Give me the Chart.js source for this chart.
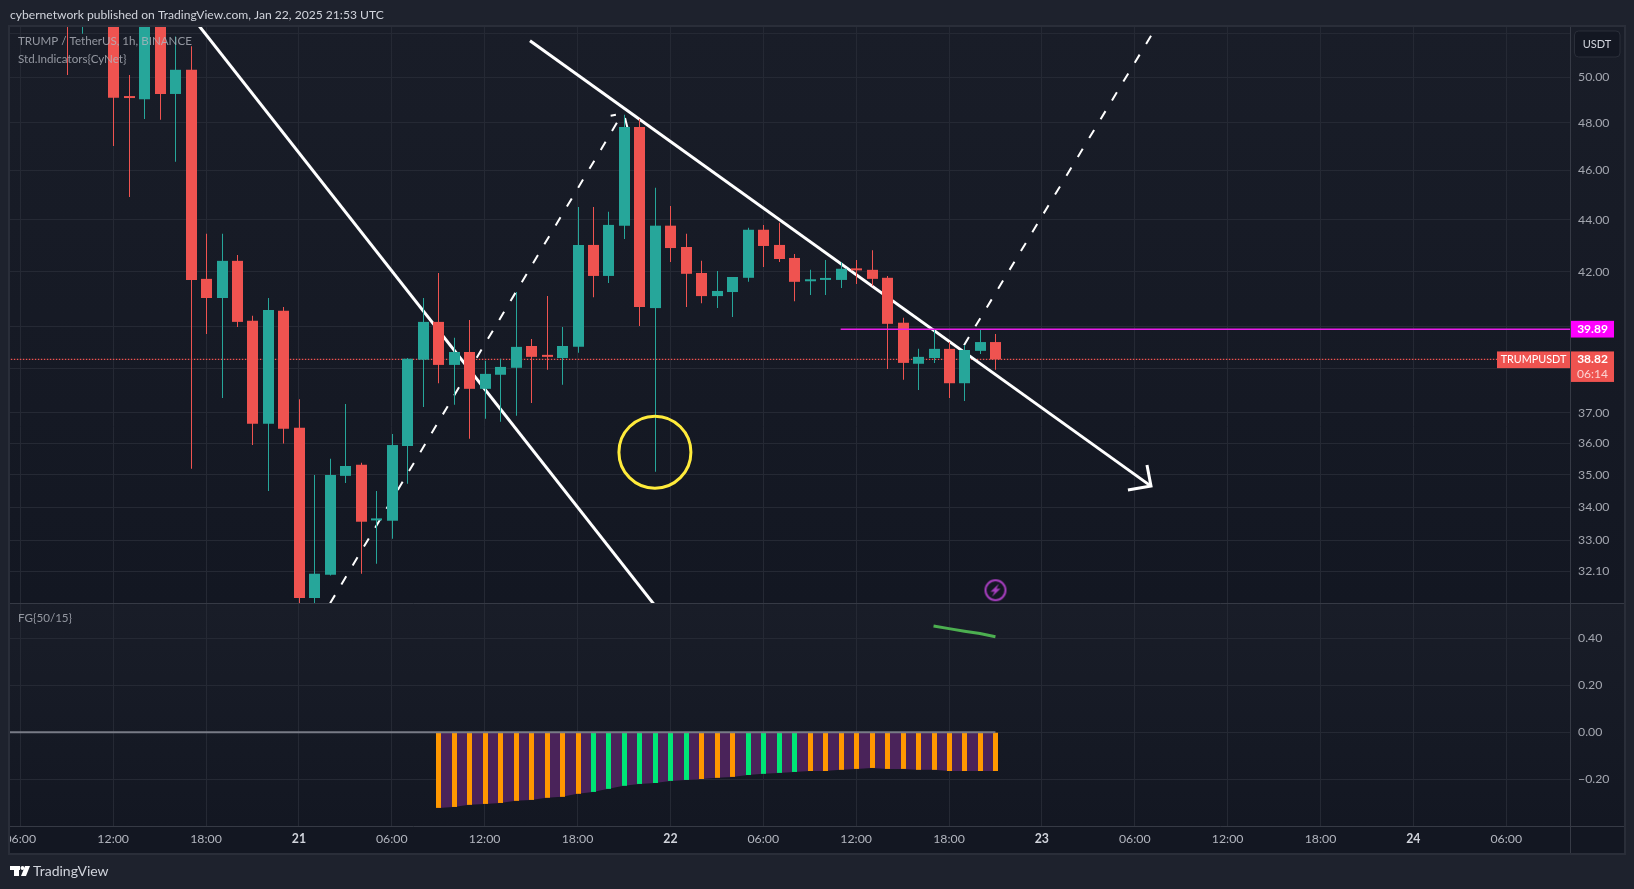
<!DOCTYPE html>
<html><head><meta charset="utf-8">
<style>html,body{margin:0;padding:0;background:#1e222d}canvas{display:block}</style>
<script src="https://cdn.jsdelivr.net/npm/chart.js@4"></script>
</head><body><canvas id="c" width="1634" height="889"></canvas>
<script>
// hour index: 0 = Jan 20 06:00
const firstHour = 3;
const opens = [55,53,54,55,49.12,49.03,53.5,49.26,50.34,41.73,
41.02,42.41,40.19,36.64,40.55,36.51,31.34,32.0,34.97,35.32,
33.60,33.59,35.92,38.81,40.15,38.63,39.08,37.81,38.29,38.53,
39.29,38.95,38.87,39.26,43.02,41.84,43.77,47.82,40.65,43.77,
42.94,41.95,41.09,41.24,41.77,43.61,43.02,42.52,41.64,41.69,
41.69,42.09,42.07,41.77,40.12,38.67,38.87,39.19,38.0,39.12,39.43];
const closes = [53.5,54,55,49.09,49.08,53,49.26,50.34,41.69,41.02,
42.41,40.15,36.64,40.58,36.48,31.34,32.03,35.0,35.28,33.56,
33.64,35.95,38.84,40.15,38.63,39.08,37.81,38.32,38.56,39.26,
38.91,38.91,39.29,43.02,41.84,43.80,47.82,40.69,43.77,42.90,
41.92,41.09,41.28,41.80,43.61,42.98,42.48,41.62,41.68,41.73,
42.11,42.05,41.73,40.08,38.70,38.91,39.19,38.0,39.15,39.43,38.82];
const highs = [56,54.5,56,56,50.10,54,54,51.87,51.42,43.45,
43.45,42.63,40.37,41.02,40.69,37.46,35.0,35.51,37.30,35.38,
34.50,36.31,38.87,41.02,41.95,39.58,40.22,38.77,38.84,41.24,
39.54,41.09,39.97,44.51,44.51,44.32,48.35,48.17,45.28,44.55,
43.45,42.41,42.03,41.80,43.69,43.80,43.88,42.67,42.07,42.44,
42.37,42.44,42.82,41.84,40.30,39.19,39.90,39.43,39.33,39.86,39.72];
const lows = [50.10,52.0,53,47.01,44.91,48.17,48.13,46.35,35.19,39.72,
37.50,39.97,35.95,34.50,36.0,31.1,31.1,31.98,34.75,32.03,
32.32,33.05,34.72,37.2,38.0,37.27,36.15,36.81,36.71,36.91,
37.33,38.46,37.95,39.05,41.05,41.58,43.25,40.0,35.10,42.37,
40.69,40.83,40.65,40.33,41.62,42.18,42.37,40.9,41.13,41.13,
41.39,41.54,41.47,38.49,38.12,37.77,38.70,37.50,37.40,39.01,38.46];

const fgFirstHour = 27;
const fgValues = [-.322,-.318,-.309,-.305,-.301,-.292,-.288,-.279,-.275,-.262,
-.254,-.241,-.228,-.220,-.216,-.207,-.203,-.199,-.194,-.190,
-.182,-.177,-.173,-.169,-.165,-.165,-.160,-.156,-.152,-.156,
-.156,-.160,-.160,-.165,-.165,-.165,-.165];
const fgColorKeys = ['o','o','o','o','o','o','o','o','o','o','g','g','g','g','g','g','g','o','o','o','g','g','g','g','o','o','o','o','o','o','o','o','o','o','o','o','o'];
const signalHours = [59,60,61,62,63];
const signalValues = [.452,.441,.430,.420,.406];
const zeroHours = [-1,63];
const zeroValues = [0,0];

const lastPrice = 38.82;
const levelPrice = 39.89;
const lastPriceHours = [-1,101];
const levelHours = [53,101];

const trendAHours = [10.75,41.75];
const trendAPrices = [53.11,30.72];
const trendBHours = [32.93,73.05];
const trendBPrices = [51.67,34.65];
const arrowHours = [72.79,73.05,71.56];
const arrowPrices = [35.31,34.65,34.53];
const dashAHours = [19.36,38.90];
const dashAPrices = [30.72,48.40];
const peakHours = [38.14,38.48,null,39.07,39.23];
const peakPrices = [48.31,48.35,null,48.21,47.78];
const dashBHours = [60.97,73.07];
const dashBPrices = [39.32,51.92];
const circleHour = [41];
const circlePrice = [35.72];
const boltHour = [63];
const boltPrice = [31.56];

const priceTicks = [52,50,48,46,44,42,40,38.5,37,36,35,34,33,32.1];
const hiddenPriceTicks = [52,40,38.5];
const fgTicks = [0.4,0.2,0,-0.2];
const timeTickHours = [0,6,12,18,24,30,36,42,48,54,60,66,72,78,84,90,96];
const timeTickLabels = ['06:00','12:00','18:00','21','06:00','12:00','18:00','22','06:00','12:00','18:00','23','06:00','12:00','18:00','24','06:00'];

const UP='#26a69a', DOWN='#ef5350', FONT='Lato';
const hrs = opens.map((_,i)=>i+firstHour);
const pts=(xs,ys)=>xs.map((x,i)=>({x:x,y:ys[i]}));
const line=(xs,ys,o)=>Object.assign({type:'line',data:pts(xs,ys),pointRadius:0,borderColor:'#ffffff',borderWidth:3,tension:0,fill:false,yAxisID:'y',xAxisID:'x',spanGaps:false},o);
const candleColors=opens.map((o,i)=>closes[i]>=o?UP:DOWN);

// bolt icon used as the point style of the marker
const bolt=document.createElement('canvas');bolt.width=24;bolt.height=24;
(function(){const g=bolt.getContext('2d');g.strokeStyle='#a83fc0';g.fillStyle='#a83fc0';g.lineWidth=2;
g.beginPath();g.arc(12,12,10,0,Math.PI*2);g.stroke();
g.beginPath();g.moveTo(15.5,5.5);g.lineTo(7,13.5);g.lineTo(11,13.5);g.lineTo(8.5,18.5);g.lineTo(17,10.5);g.lineTo(13,10.5);g.closePath();g.fill();})();

// keep bar marks crisp on the pixel grid (TradingView snaps candles the same way)
const crisp={id:'crisp',afterDatasetsUpdate(ch){ch.data.datasets.forEach((d,i)=>{if(d.type==='bar'){ch.getDatasetMeta(i).data.forEach(e=>{e.x=Math.round(e.x)+.5;});}});}};

const chrome={id:'chrome',
beforeDraw(ch){const c=ch.ctx,R=1624,L=10;
 c.save();c.fillStyle='#1e222d';c.fillRect(0,0,1634,889);
 const pane=(t,b)=>{const g=c.createLinearGradient(0,t,0,b);g.addColorStop(0,'#191d28');g.addColorStop(1,'#131722');c.fillStyle=g;c.fillRect(L,t,R-L,b-t);};
 pane(ch.scales.y.top,ch.scales.y.bottom);pane(ch.scales.y2.top,ch.scales.y2.bottom);
 c.fillStyle='#131722';c.fillRect(L,826,R-L,27);
 c.restore();},
afterDraw(ch){const c=ch.ctx,R=1624,L=10,sy=ch.scales.y;
 c.save();
 // cover label overflow on the left edge
 c.fillStyle='#1e222d';c.fillRect(0,826,L-1,27);
 // frame and separators
 c.strokeStyle='#2a2e39';c.lineWidth=2;c.strokeRect(L-1,26,R-L+2,828);
 c.lineWidth=1;c.strokeStyle='#363a45';
 c.beginPath();c.moveTo(L,603.5);c.lineTo(R,603.5);c.moveTo(L,826.5);c.lineTo(R,826.5);c.moveTo(1570.5,27);c.lineTo(1570.5,853);c.stroke();
 c.textBaseline='middle';
 // header and footer
 c.textAlign='left';c.fillStyle='#d1d4dc';c.font='12.1px '+FONT;
 c.fillText('cybernetwork published on TradingView.com, Jan 22, 2025 21:53 UTC',10,15);
 c.fillStyle='#d1d4dc';c.font='14px '+FONT;c.fillText('TradingView',33,871);
 c.fillStyle='#ffffff';
 c.fillRect(10,866,10,4);c.fillRect(14,866,5,10);c.beginPath();c.arc(22.5,868,2,0,7);c.fill();
 c.beginPath();c.moveTo(25,866);c.lineTo(30,866);c.lineTo(26,876);c.lineTo(21,876);c.closePath();c.fill();
 // pane legends
 c.fillStyle='rgba(178,181,190,.8)';c.font='11.6px '+FONT;
 c.fillText('TRUMP / TetherUS, 1h, BINANCE',18,41.5);
 c.fillText('Std.Indicators{CyNet}',18,59);
 c.fillText('FG{50/15}',18,618);
 // USDT button
 c.beginPath();c.roundRect(1574.5,31,45.5,26,4);c.fillStyle='#131722';c.fill();c.strokeStyle='#2a2e39';c.lineWidth=1;c.stroke();
 c.fillStyle='#d1d4dc';c.textAlign='center';c.font='11px '+FONT;c.fillText('USDT',1597,44);
 // level tag
 const ly=sy.getPixelForValue(levelPrice);
 c.fillStyle='#ff00ff';c.fillRect(1571,ly-8.3,43,16.7);
 c.fillStyle='#ffffff';c.font='bold 12px '+FONT;c.fillText(levelPrice.toFixed(2),1592.5,ly);
 // last price tags
 const py=sy.getPixelForValue(lastPrice);
 c.fillStyle=DOWN;c.fillRect(1571,py-8,43,30.5);c.fillRect(1497,py-8,73,16.7);
 c.fillStyle='#ffffff';c.font='10.8px '+FONT;c.fillText('TRUMPUSDT',1533.5,py);
 c.font='bold 12px '+FONT;c.fillText(lastPrice.toFixed(2),1592.5,py);
 c.fillStyle='rgba(255,255,255,.75)';c.font='12px '+FONT;c.fillText('06:14',1592.5,py+15);
 c.restore();}
};

new Chart(document.getElementById('c'),{
 type:'bar',
 data:{datasets:[
  line(lastPriceHours,[lastPrice,lastPrice],{borderColor:DOWN,borderWidth:1.2,borderDash:[1.5,1.5],order:30}),
  line(trendAHours,trendAPrices,{order:20}),
  line(trendBHours,trendBPrices,{order:20}),
  line(arrowHours,arrowPrices,{order:20,borderJoinStyle:'miter'}),
  line(dashAHours,dashAPrices,{borderWidth:2,borderDash:[9.5,12.5],borderDashOffset:2.2,order:20}),
  line(peakHours,peakPrices,{borderWidth:2,order:20}),
  line(dashBHours,dashBPrices,{borderWidth:2,borderDash:[9.5,12.5],order:20}),
  {type:'bar',data:hrs.map((h,i)=>({x:h,y:[lows[i],highs[i]]})),backgroundColor:candleColors,barThickness:1,inflateAmount:0,grouped:false,order:11,yAxisID:'y',xAxisID:'x'},
  {type:'bar',data:hrs.map((h,i)=>({x:h,y:[opens[i],closes[i]]})),backgroundColor:candleColors,barThickness:11,inflateAmount:0,minBarLength:2,grouped:false,order:10,yAxisID:'y',xAxisID:'x'},
  line(levelHours,[levelPrice,levelPrice],{borderColor:'#e91ee9',borderWidth:1.5,order:5}),
  line(circleHour,circlePrice,{showLine:false,pointRadius:36,pointBorderWidth:3,pointBorderColor:'#ffeb3b',pointBackgroundColor:'rgba(0,0,0,0)',order:4}),
  line(boltHour,boltPrice,{showLine:false,pointRadius:12,pointStyle:bolt,order:4}),
  line(fgValues.map((_,i)=>i+fgFirstHour),fgValues,{yAxisID:'y2',borderWidth:0,borderColor:'#4a235a',backgroundColor:'#4a235a',fill:{value:0},order:9}),
  {type:'bar',data:fgValues.map((v,i)=>({x:i+fgFirstHour,y:v})),backgroundColor:fgColorKeys.map(k=>k==='g'?'#00e676':'#ff9800'),barThickness:5,inflateAmount:0,grouped:false,order:8,yAxisID:'y2',xAxisID:'x'},
  line(zeroHours,zeroValues,{yAxisID:'y2',borderColor:'#787b86',borderWidth:2,order:7}),
  line(signalHours,signalValues,{yAxisID:'y2',borderColor:'#4caf50',borderWidth:3,order:6})
 ]},
 options:{responsive:false,animation:false,devicePixelRatio:1,
  layout:{autoPadding:false,padding:{left:10,top:27,right:10,bottom:36}},
  plugins:{legend:{display:false},tooltip:{enabled:false},title:{display:false}},
  scales:{
   x:{type:'linear',position:'bottom',min:-0.665,max:100.12,offset:false,
    grid:{color:'#252934',offset:false,drawTicks:false},border:{display:false},
    afterFit(s){s.height=27;s.paddingLeft=0;s.paddingRight=0;},
    afterBuildTicks(s){s.ticks=timeTickHours.map(v=>({value:v}));},
    ticks:{autoSkip:false,maxRotation:0,minRotation:0,padding:6,
     color(ctx){return /^\d\d$/.test(timeTickLabels[ctx.index])?'#d1d4dc':'#b2b5be';},
     font(ctx){return {family:FONT,size:12.3,weight:/^\d\d$/.test(timeTickLabels[ctx.index])?'700':'400'};},
     callback(v,i){return timeTickLabels[i];}}},
   y:{type:'logarithmic',position:'right',stack:'panes',stackWeight:576,min:31.20,max:52.31,
    grid:{color:'#252934',drawTicks:false},border:{display:false},
    afterFit(s){s.width=54;s.paddingTop=0;s.paddingBottom=0;},
    afterBuildTicks(s){s.ticks=priceTicks.map(v=>({value:v}));},
    ticks:{autoSkip:false,padding:8,color:'#a3a6af',font:{family:FONT,size:12.3},
     callback(v){return hiddenPriceTicks.includes(v)?'':v.toFixed(2);}}},
   y2:{type:'linear',position:'right',stack:'panes',stackWeight:223,min:-0.399,max:0.55,
    grid:{color:'#252934',drawTicks:false},border:{display:false},
    afterFit(s){s.width=54;s.paddingTop=0;s.paddingBottom=0;},
    afterBuildTicks(s){s.ticks=fgTicks.map(v=>({value:v}));},
    ticks:{autoSkip:false,padding:8,color:'#a3a6af',font:{family:FONT,size:12.3},
     callback(v){return (v<0?'\u2212':'')+Math.abs(v).toFixed(2);}}}
  }
 },
 plugins:[crisp,chrome]
});
</script></body></html>
